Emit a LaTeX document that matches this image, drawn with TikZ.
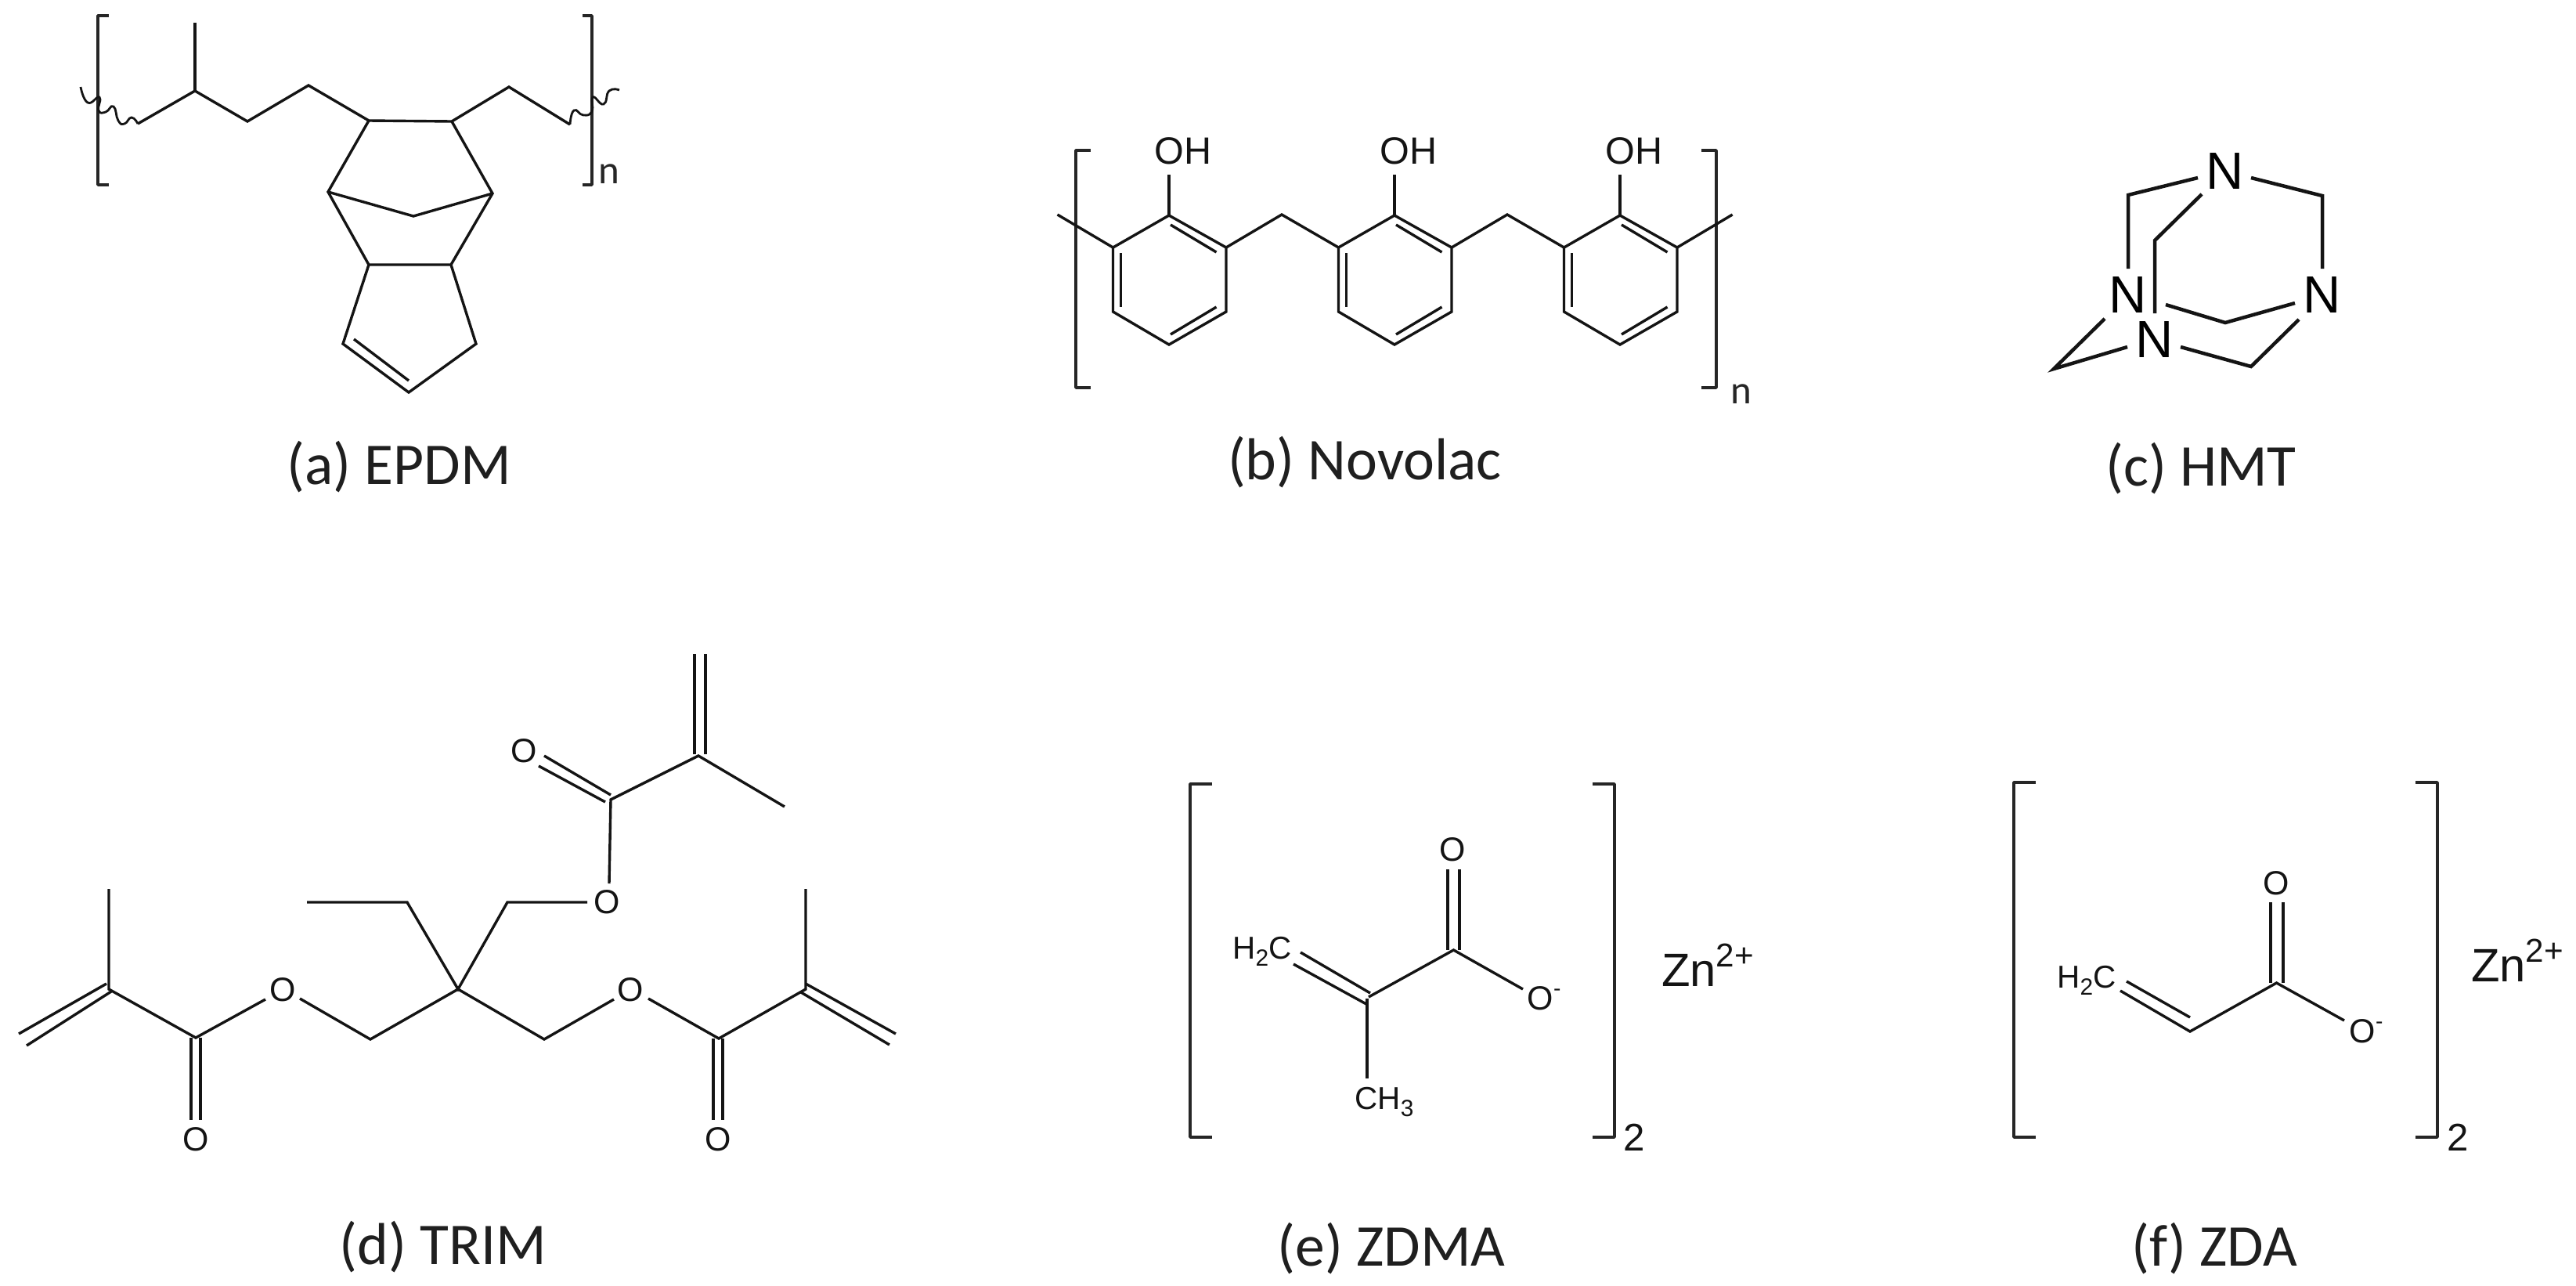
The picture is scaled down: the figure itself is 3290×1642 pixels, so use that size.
\documentclass[tikz,border=0pt]{standalone}
\usepackage{fontspec}
\setmainfont{Liberation Sans}
\newfontfamily\capfont{Carlito}
\newcommand{\lowidx}[2]{\raisebox{-0.22em}{\fontsize{#1}{#1}\selectfont #2}}
\newcommand{\upidx}[2]{\raisebox{0.42em}{\fontsize{#1}{#1}\selectfont #2}}
\tikzset{
  bond/.style={line width=0.034cm,line join=miter,line cap=butt,color=black!92},
  thickbond/.style={bond,line width=0.045cm},
  brack/.style={line width=0.036cm,line join=round,color=black!85},
  atom/.style={inner sep=0pt,font=\fontsize{12.2}{12.2}\selectfont,text=black!92},
  hmtatom/.style={inner sep=0pt,font=\fontsize{19}{19}\selectfont,text=black},
  bigatom/.style={inner sep=0pt,font=\fontsize{13.8}{13.8}\selectfont,text=black!92},
  ion/.style={inner sep=0pt,font=\fontsize{17}{17}\selectfont,text=black!92},
  capt/.style={inner sep=0pt,font=\capfont\fontsize{21.5}{21.5}\selectfont,text=black!88},
  sub/.style={inner sep=0pt,font=\capfont\fontsize{14.5}{14.5}\selectfont,text=black!85},
  subarial/.style={inner sep=0pt,font=\fontsize{14}{14}\selectfont,text=black!92},
}
\begin{document}
\begin{tikzpicture}[x=0.01cm,y=-0.01cm]
\useasboundingbox (0,0) rectangle (3290,1642);

%% (a) EPDM
\draw[brack] (139,20) -- (125,20) -- (125,236) -- (139,236);
\draw[brack] (744,20) -- (756,20) -- (756,236) -- (744,236);
\node[sub] (an) at (778,222) {n};
\draw[bond] (176,158) -- (249,116) -- (316,155) -- (394,109) -- (471,154) -- (577,155) -- (650,111) -- (728,159);
\draw[bond] (249,116) -- (249,29);
\draw[bond] (471,154) -- (419,245) -- (471,338) -- (576,338) -- (629,247) -- (577,155);
\draw[bond] (419,245) -- (528,276) -- (629,247);
\draw[bond] (471,338) -- (438,439) -- (522,501) -- (608,439) -- (576,338);
\draw[bond] (452,433) -- (522,486);
\draw[bond,line width=0.028cm] plot[smooth,tension=0.9] coordinates {(176,158) (168,150) (159,158) (151,154) (145,136) (135,143) (126,141) (127,124) (112,131) (103,111)};
\draw[bond,line width=0.028cm] plot[smooth,tension=0.9] coordinates {(728,159) (733,141) (745,147) (756,142) (757,124) (771,133) (778,116) (791,115)};
\node[capt] (acap) at (510,596) {(a) EPDM};

%% (b) Novolac
\draw[brack] (1393,192) -- (1374,192) -- (1374,495) -- (1393,495);
\draw[brack] (2173,192) -- (2192,192) -- (2192,495) -- (2173,495);
\node[sub] (bn) at (2224,503) {n};
\foreach \dx/\nm in {0/a,288/b,576/c}{
  \begin{scope}[xshift=\dx*0.01cm]
    \draw[bond] (1493,275) -- (1566,316) -- (1566,398) -- (1493,440) -- (1421.5,398) -- (1421.5,316) -- cycle;
    \draw[bond] (1493,275) -- (1493,223);
    \draw[bond] (1431.5,323) -- (1431.5,392);
    \draw[bond] (1495,287) -- (1553.5,322);
    \draw[bond] (1495,427) -- (1553.5,392);
    \node[bigatom] (oh\nm) at (1511,193) {OH};
  \end{scope}
}
\draw[bond] (1350.5,274) -- (1421.5,316);
\draw[bond] (1566,316) -- (1637,274) -- (1709.5,316);
\draw[bond] (1854,316) -- (1925,274) -- (1997.5,316);
\draw[bond] (2142,316) -- (2212.6,274);
\node[capt] (bcap) at (1743,590) {(b) Novolac};

%% (c) HMT
\node[hmtatom] (nt) at (2842,219) {N};
\node[hmtatom] (nl) at (2718,377) {N};
\node[hmtatom] (nr) at (2966,377) {N};
\node[hmtatom] (nb) at (2752,434) {N};
\draw[thickbond] (2807,227) -- (2718,249) -- (2718,343);
\draw[thickbond] (2875,227) -- (2966,250) -- (2966,343);
\draw[thickbond] (2812,248) -- (2752,307) -- (2752,400);
\draw[thickbond] (2766,389) -- (2842,412) -- (2931,387);
\draw[thickbond] (2785,443) -- (2875,468) -- (2936,408);
\draw[thickbond] (2688,407) -- (2623,471) -- (2717,443);
\node[capt] (ccap) at (2811,598) {(c) HMT};

%% (d) TRIM
\draw[bond] (139,1135) -- (139,1263) -- (250,1325) -- (339,1276);
\draw[bond] (24,1320) -- (136,1256);
\draw[bond] (34,1335) -- (142,1266);
\node[atom] (o1) at (361,1264) {O};
\draw[bond] (383,1275) -- (473,1327) -- (585,1263) -- (695,1327) -- (784,1276);
\node[atom] (o2) at (805,1264) {O};
\draw[bond] (828,1275) -- (918,1326) -- (1029,1263) -- (1029,1135);
\draw[bond] (1029,1256) -- (1144,1320);
\draw[bond] (1023,1267) -- (1136,1334);
\draw[bond] (244,1325) -- (244,1430);
\draw[bond] (256,1325) -- (256,1430);
\node[atom] (o3) at (250,1455) {O};
\draw[bond] (911,1326) -- (911,1430);
\draw[bond] (923,1326) -- (923,1430);
\node[atom] (o4) at (917,1455) {O};
\draw[bond] (392,1152) -- (520,1152) -- (585,1263) -- (648,1152) -- (750,1152);
\node[atom] (o5) at (775,1152) {O};
\draw[bond] (778,1128) -- (780,1021) -- (892,965) -- (1002,1030);
\draw[bond] (780,1015) -- (695,965);
\draw[bond] (773,1024) -- (688,978);
\node[atom] (o6) at (669,959) {O};
\draw[bond] (887,963) -- (887,835);
\draw[bond] (901,963) -- (901,835);
\node[capt] (dcap) at (566,1592) {(d) TRIM};

%% (e) ZDMA
\draw[brack] (1548,1001) -- (1520,1001) -- (1520,1452) -- (1548,1452);
\draw[brack] (2034,1001) -- (2062,1001) -- (2062,1452) -- (2034,1452);
\node[subarial] (e2) at (2087,1452) {2};
\node[atom] (eo) at (1855.5,1085) {O};
\draw[bond] (1849,1110) -- (1849,1213);
\draw[bond] (1864,1110) -- (1864,1213);
\draw[bond] (1945,1263) -- (1856.5,1213) -- (1748,1273);
\node[atom] (eom) at (1972,1275) {O\upidx{8}{-}};
\draw[bond] (1746,1275) -- (1746,1377);
\node[atom,font=\fontsize{11.5}{11.5}\selectfont] (ech) at (1768,1407) {CH\lowidx{8.5}{3}};
\node[atom,font=\fontsize{11.5}{11.5}\selectfont] (ehc) at (1612,1215) {H\lowidx{8.5}{2}C};
\draw[bond] (1661,1216) -- (1750,1268);
\draw[bond] (1652,1231) -- (1745,1282);
\node[ion] (ezn) at (2181,1232) {Zn\upidx{12}{2+}};
\node[capt] (ecap) at (1777,1594) {(e) ZDMA};

%% (f) ZDA
\draw[brack] (2600,999) -- (2572,999) -- (2572,1452) -- (2600,1452);
\draw[brack] (3085,999) -- (3113,999) -- (3113,1452) -- (3085,1452);
\node[subarial] (f2) at (3139,1452) {2};
\node[atom] (fo) at (2907,1128) {O};
\draw[bond] (2900,1152) -- (2900,1255);
\draw[bond] (2916,1152) -- (2916,1255);
\draw[bond] (2994,1303) -- (2907.5,1255) -- (2797,1317) -- (2708,1265);
\draw[bond] (2716,1253) -- (2797,1299);
\node[atom] (fom) at (3022,1317) {O\upidx{8}{-}};
\node[atom,font=\fontsize{11.5}{11.5}\selectfont] (fhc) at (2665,1252) {H\lowidx{8.5}{2}C};
\node[ion] (fzn) at (3215,1226) {Zn\upidx{12}{2+}};
\node[capt] (fcap) at (2828,1594) {(f) ZDA};
\end{tikzpicture}
\end{document}
